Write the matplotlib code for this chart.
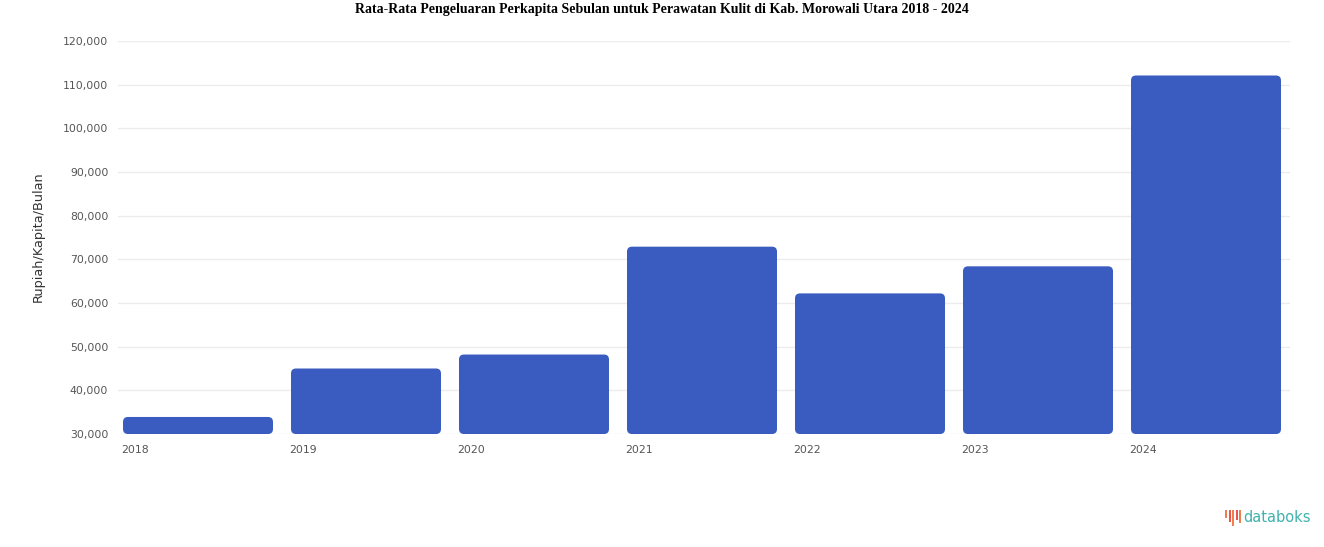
import matplotlib
matplotlib.use("Agg")
import matplotlib.pyplot as plt
from matplotlib.patches import FancyBboxPatch, Rectangle

years = ["2018", "2019", "2020", "2021", "2022", "2023", "2024"]
values = [33900, 45000, 48200, 72900, 62200, 68400, 112100]
yticks = [30000, 40000, 50000, 60000, 70000, 80000, 90000, 100000, 110000, 120000]
title = "Rata-Rata Pengeluaran Perkapita Sebulan untuk Perawatan Kulit di Kab. Morowali Utara 2018 - 2024"
ylabel = "Rupiah/Kapita/Bulan"

W, H = 1324, 547
fig = plt.figure(figsize=(W / 100, H / 100), dpi=100)
fig.patch.set_facecolor("white")
ax = fig.add_axes([118 / W, 1 - 434 / H, (1290 - 118) / W, (434 - 41) / H])
ymin, ymax = 30000, 120000
bar_w = 150 / 168
off = (1 - bar_w) / 2
ax.set_xlim(off - 5 / 168, 7.0)
ax.set_ylim(ymin, ymax)

px_per_x = (1290 - 118) / (7.0 - (off - 5 / 168))
px_per_y = (434 - 41) / (ymax - ymin)
r_x = 5 / px_per_x
aspect = (5 / px_per_y) / r_x

color = "#3A5BBF"
for i, v in enumerate(values):
    x0 = i + off
    p = FancyBboxPatch((x0, ymin), bar_w, v - ymin,
                       boxstyle=f"round,pad=0,rounding_size={r_x}",
                       mutation_aspect=aspect, facecolor=color, edgecolor="none", zorder=3)
    ax.add_patch(p)

ax.set_yticks(yticks)
ax.set_yticklabels([f"{t:,}" for t in yticks], fontsize=7.8, color="#555555")
ax.set_xticks([i + off - 2 / 168 for i in range(len(years))])
ax.set_xticklabels(years, fontsize=7.8, color="#555555", ha="left")
ax.tick_params(axis="x", length=0, pad=8)
ax.tick_params(axis="y", length=0, pad=7)
ax.grid(axis="y", color="#ececec", linewidth=1, zorder=0)
for s in ax.spines.values():
    s.set_visible(False)

fig.text(38 / W, 1 - 237 / H, ylabel, rotation=90, ha="center", va="center",
         fontsize=9.3, color="#333333")
fig.text(662 / W, 1 - 10 / H, title, ha="center", va="center",
         fontsize=10, fontweight="bold", family="Liberation Serif", color="black")

# databoks logo
bars_logo = [(1225, 8, "#F07F4E"), (1228.5, 12, "#E9574A"), (1232, 16, "#F07F4E"),
             (1235.5, 10, "#E9574A"), (1239, 13, "#F07F4E")]
for x, h, c in bars_logo:
    fig.add_artist(Rectangle((x / W, 1 - (510 + h) / H), 2.2 / W, h / H,
                             facecolor=c, edgecolor="none", transform=fig.transFigure))
fig.text(1243 / W, 1 - 518 / H, "databoks", ha="left", va="center",
         fontsize=10.5, color="#3FB2AC", family="DejaVu Sans", fontweight="medium")

fig.savefig("out.png", dpi=100, facecolor="white")
